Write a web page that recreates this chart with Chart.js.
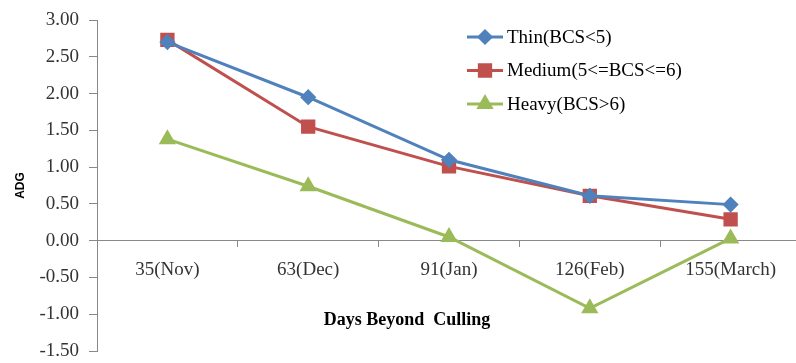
<!DOCTYPE html>
<html>
<head>
<meta charset="utf-8">
<script src="https://cdn.jsdelivr.net/npm/chart.js@4/dist/chart.umd.min.js"></script>
<style>
  html, body { margin: 0; padding: 0; background: #fff; overflow: hidden; }
  #wrap { width: 812px; height: 363px; }
</style>
</head>
<body>
<div id="wrap"><canvas id="adgChart" width="812" height="363"></canvas></div>
<script>
// data
const categories = ['35(Nov)', '63(Dec)', '91(Jan)', '126(Feb)', '155(March)'];
const thin = [2.70, 1.95, 1.10, 0.61, 0.49];
const medium = [2.73, 1.55, 1.01, 0.61, 0.29];
const heavy = [1.38, 0.74, 0.05, -0.92, 0.03];
const seriesNames = ['Thin(BCS<5)', 'Medium(5<=BCS<=6)', 'Heavy(BCS>6)'];

const serif = '"Liberation Serif", "Times New Roman", serif';

// legend drawn inside the plot, like the original
const insideLegend = {
  id: 'insideLegend',
  afterDraw(chart) {
    const ctx = chart.ctx;
    ctx.save();
    chart.data.datasets.forEach((ds, i) => {
      const y = 37 + i * 33.5;
      ctx.strokeStyle = ds.borderColor;
      ctx.lineWidth = 3;
      ctx.beginPath();
      ctx.moveTo(467, y);
      ctx.lineTo(503, y);
      ctx.stroke();
      ctx.fillStyle = ds.backgroundColor;
      ctx.strokeStyle = ds.borderColor;
      Chart.helpers.drawPoint(ctx, {
        pointStyle: ds.pointStyle,
        radius: ds.pointRadius,
        rotation: 0,
        borderWidth: 1
      }, 485, y);
      ctx.fillStyle = '#000';
      ctx.font = 'normal 19px ' + serif;
      ctx.textAlign = 'left';
      ctx.textBaseline = 'middle';
      ctx.fillText(ds.label, 507, y + 1);
    });
    // x axis title
    ctx.font = 'bold 18px ' + serif;
    ctx.textAlign = 'center';
    ctx.fillStyle = '#000';
    ctx.fillText('Days Beyond  Culling', 407, 320);
    ctx.restore();
  }
};

const ctx = document.getElementById('adgChart').getContext('2d');
const adgChart = new Chart(ctx, {
  type: 'line',
  data: {
    labels: categories,
    datasets: [{
      label: seriesNames[0],
      data: thin,
      borderColor: '#4F81BD',
      backgroundColor: '#4F81BD',
      pointStyle: 'rectRot',
      pointRadius: 6,
      borderWidth: 3
    }, {
      label: seriesNames[1],
      data: medium,
      borderColor: '#C0504D',
      backgroundColor: '#C0504D',
      pointStyle: 'rect',
      pointRadius: 8,
      borderWidth: 3
    }, {
      label: seriesNames[2],
      data: heavy,
      borderColor: '#9BBB59',
      backgroundColor: '#9BBB59',
      pointStyle: 'triangle',
      pointRadius: 7,
      borderWidth: 3
    }]
  },
  options: {
    responsive: false,
    animation: false,
    layout: { padding: { left: 0, right: 5, top: 20, bottom: 12 } },
    elements: { line: { tension: 0 }, point: { borderWidth: 1 } },
    plugins: {
      legend: { display: false },
      tooltip: { enabled: false }
    },
    scales: {
      x: {
        position: { y: 0 },
        offset: true,
        grid: { offset: true, drawOnChartArea: false, tickLength: 6, color: '#888' },
        border: { color: '#888', width: 1 },
        ticks: { color: '#333', font: { family: serif, size: 19 }, padding: 12, maxRotation: 0 }
      },
      y: {
        min: -1.5,
        max: 3,
        afterFit(scale) { scale.width = 97; },
        afterUpdate(scale) { scale.paddingBottom = 0; scale.paddingTop = 0; },
        grid: { drawOnChartArea: false, tickLength: 8, color: '#888' },
        border: { color: '#888', width: 1 },
        ticks: {
          stepSize: 0.5,
          color: '#333',
          padding: 10,
          font: { family: serif, size: 19 },
          callback: v => v.toFixed(2)
        },
        title: {
          display: true,
          text: 'ADG',
          color: '#000',
          padding: { top: 13, bottom: 0 },
          font: { family: '"Liberation Sans", Arial, sans-serif', size: 12, weight: 'bold' }
        }
      }
    }
  },
  plugins: [insideLegend]
});
console.log(JSON.stringify(adgChart.chartArea));
</script>
</body>
</html>
